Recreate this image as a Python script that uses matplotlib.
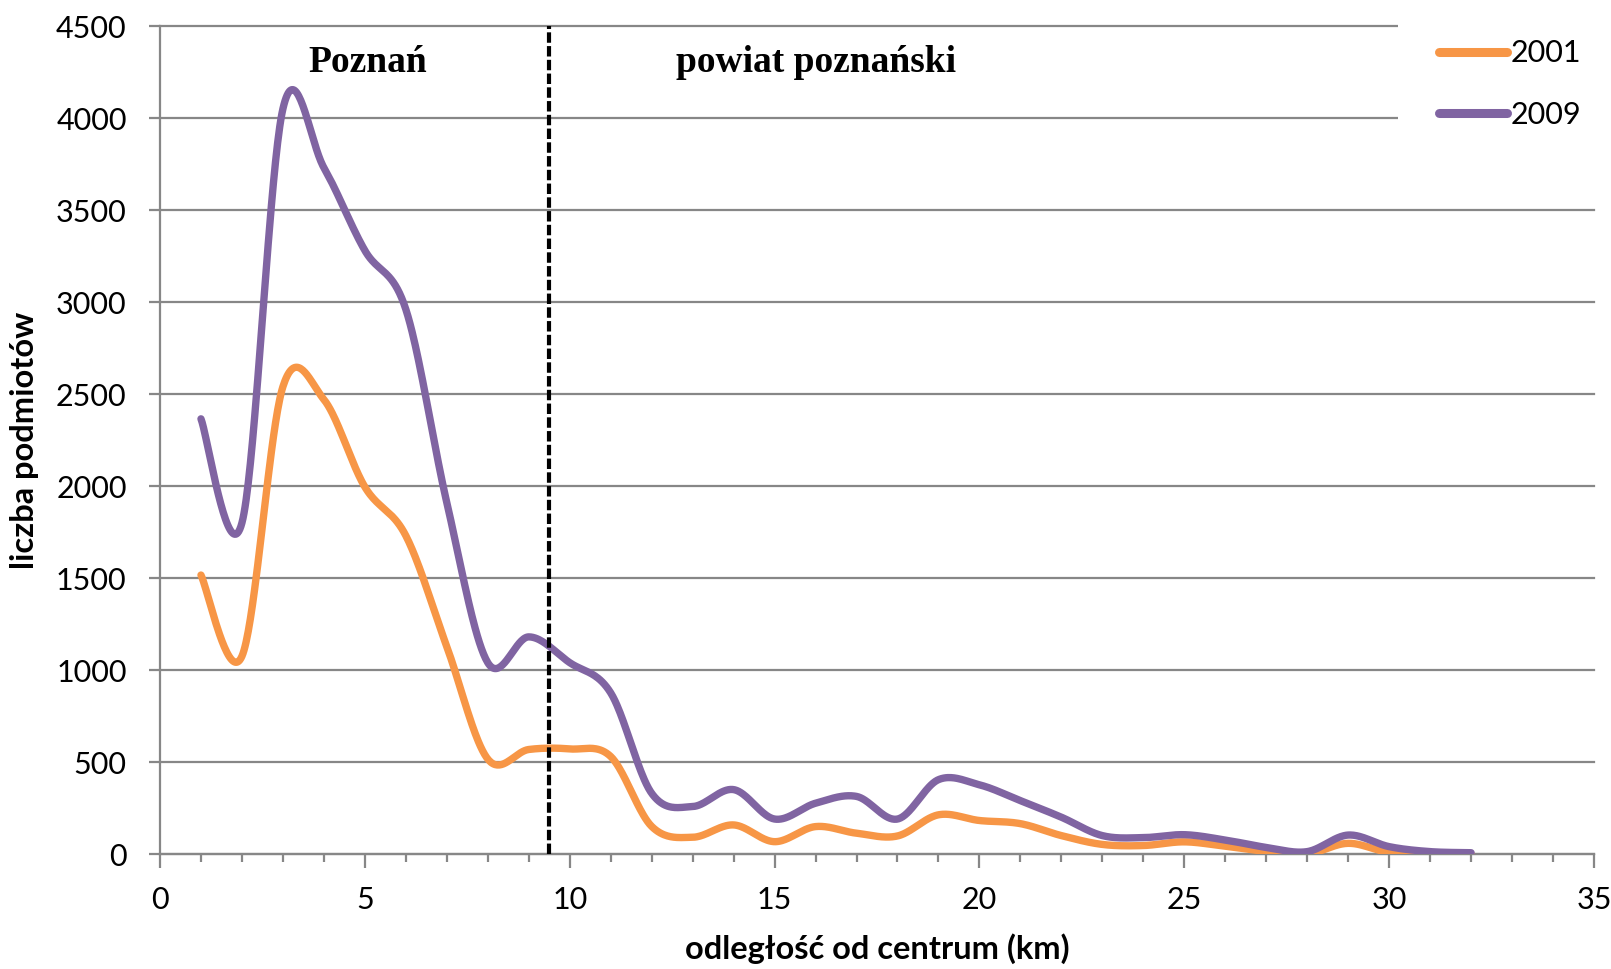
import numpy as np
import matplotlib
matplotlib.use("Agg")
import matplotlib.pyplot as plt
from matplotlib.patches import Rectangle

# ==== dane ====
km = [1, 2, 3, 4, 5, 6, 7, 8, 9, 10, 11, 12, 13, 14, 15, 16,
      17, 18, 19, 20, 21, 22, 23, 24, 25, 26, 27, 28, 29, 30, 31, 32]
y2001 = [1516, 1075, 2540, 2470, 1995, 1730, 1127, 516, 568, 571, 530, 150, 91, 158, 67, 149,
         113, 98, 213, 182, 165, 100, 52, 46, 66, 42, 14, 0, 58, 8, 0, 0]
y2009 = [2365, 1800, 4050, 3730, 3280, 2960, 1910, 1040, 1180, 1040, 876, 330, 258, 350, 190, 276,
         313, 190, 404, 376, 290, 200, 100, 89, 105, 76, 36, 13, 103, 40, 13, 7]
series_labels = ['2001', '2009']
colors = ['#F79646', '#8064A2']
border_km = 9.5
region_labels = ['Poznań', 'powiat poznański']
region_x = [5.06, 16.0]


# ==== wygładzanie jak w Excelu (Bezier / Catmull-Rom) ====
def smooth(x, y, n=40):
    x = np.asarray(x, float)
    y = np.asarray(y, float)
    px = np.concatenate([[x[0]], x, [x[-1]]])
    py = np.concatenate([[y[0]], y, [y[-1]]])
    xs, ys = [], []
    t = np.linspace(0, 1, n)
    for i in range(1, len(x)):
        p0 = np.array([px[i], py[i]])
        p1 = np.array([px[i + 1], py[i + 1]])
        c1 = p0 + (p1 - np.array([px[i - 1], py[i - 1]])) / 6
        c2 = p1 - (np.array([px[i + 2], py[i + 2]]) - p0) / 6
        b = ((1 - t) ** 3)[:, None] * p0 + (3 * (1 - t) ** 2 * t)[:, None] * c1 \
            + (3 * (1 - t) * t ** 2)[:, None] * c2 + (t ** 3)[:, None] * p1
        xs.append(b[:, 0])
        ys.append(b[:, 1])
    return np.concatenate(xs), np.concatenate(ys)


plt.rcParams['font.family'] = ['Lato', 'DejaVu Sans']

fig = plt.figure(figsize=(16.11, 9.69), dpi=100)
ax = fig.add_axes([160 / 1611, 1 - 854 / 969, 1434 / 1611, 828 / 969])

grid_c = '#878787'
for v in range(0, 4501, 500):
    ax.axhline(v, color=grid_c, lw=1.6, zorder=1, clip_on=False)

for xs, ys, lab, c in zip([km, km], [y2001, y2009], series_labels, colors):
    sx, sy = smooth(xs, ys)
    ax.plot(sx, sy, color=c, lw=5.3, label=lab, solid_capstyle='round', zorder=3)

ax.axvline(border_km, color='black', lw=3, linestyle=(0, (2.5, 0.8)), zorder=4)

for txt, xv in zip(region_labels, region_x):
    ax.text(xv, 4250, txt, ha='center', va='baseline', fontsize=27,
            fontweight='bold', family='Liberation Serif')

ax.set_xlim(0, 35)
ax.set_ylim(0, 4500)
ax.set_xticks(range(0, 36, 5))
ax.set_xticks(range(0, 36, 1), minor=True)
ax.set_yticks(range(0, 4501, 500))

for s in ['top', 'right']:
    ax.spines[s].set_visible(False)
for s in ['left', 'bottom']:
    ax.spines[s].set_color(grid_c)
    ax.spines[s].set_linewidth(1.6)

ax.tick_params(axis='x', which='major', length=10, width=1.6, color=grid_c, labelsize=22, pad=13)
ax.tick_params(axis='x', which='minor', length=6, width=1.6, color=grid_c)
ax.tick_params(axis='y', length=8, width=1.6, color=grid_c, labelsize=22, pad=16)

ax.set_xlabel('odległość od centrum (km)', fontsize=23.5, fontweight='bold', labelpad=14)
ax.set_ylabel('liczba podmiotów', fontsize=23.5, fontweight='bold', labelpad=12)

# biały prostokąt pod legendą
ax.add_patch(Rectangle((1398 / 1611, 1 - 150 / 969), 213 / 1611, 150 / 969,
                       transform=fig.transFigure, facecolor='white', edgecolor='none',
                       clip_on=False, zorder=2))
leg = ax.legend(loc='upper left', bbox_to_anchor=(1424 / 1611, 1 - 24 / 969),
                bbox_transform=fig.transFigure, frameon=False, fontsize=22,
                handlelength=2.2, handletextpad=0.12, labelspacing=1.1, borderpad=0)
for h in leg.get_lines():
    h.set_linewidth(6.5)
leg.set_zorder(5)

fig.savefig('out.png', dpi=100)
